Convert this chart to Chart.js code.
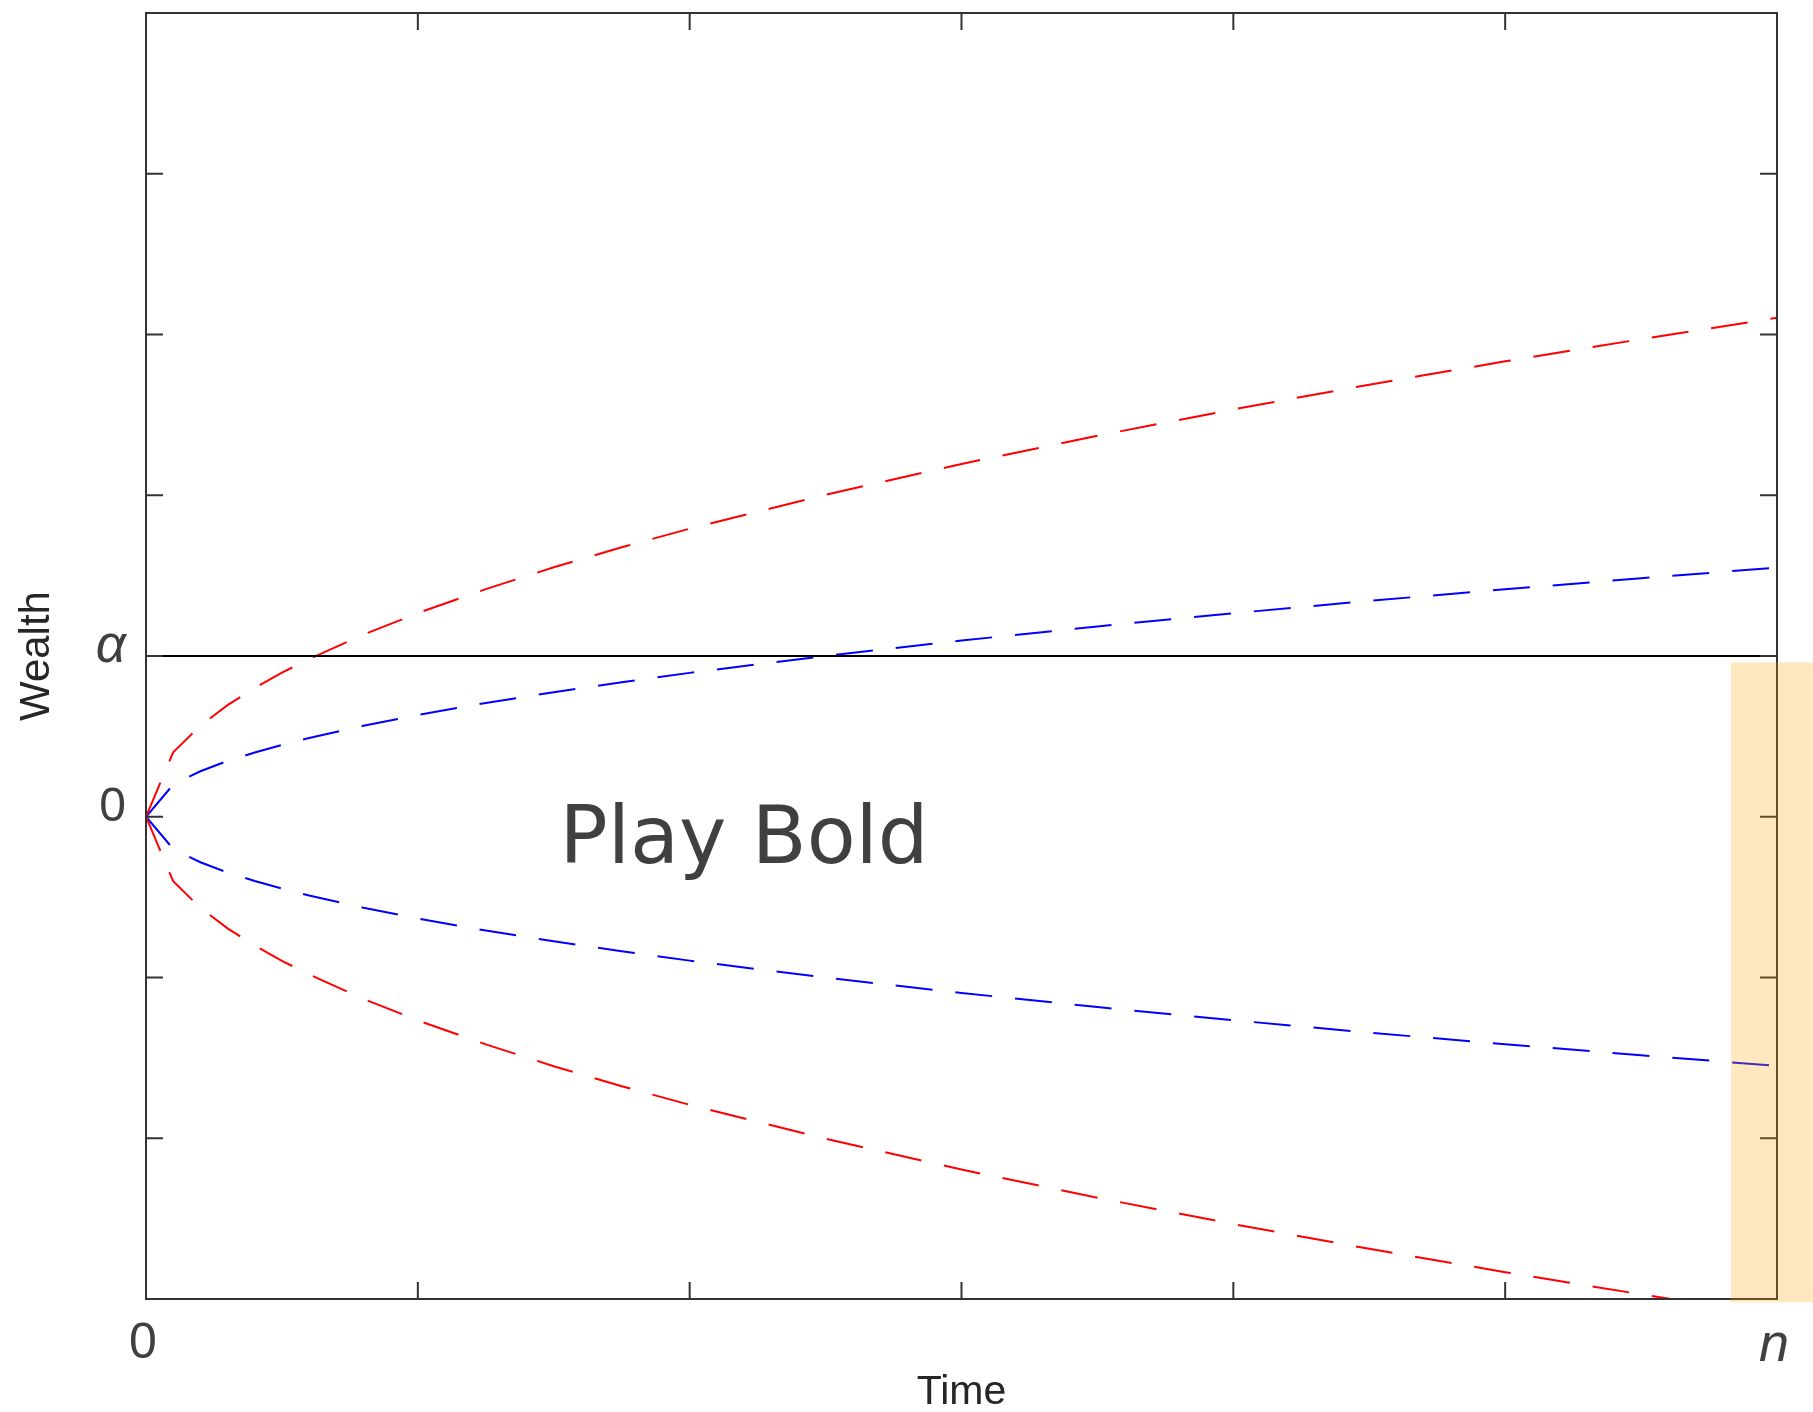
<!DOCTYPE html>
<html>
<head>
<meta charset="utf-8">
<title>Play Bold</title>
<script src="https://cdn.jsdelivr.net/npm/chart.js@4.4.1/dist/chart.umd.min.js"></script>
<style>
  html, body { margin: 0; padding: 0; background: #ffffff; }
  #wrap { width: 1813px; height: 1412px; position: relative; }
</style>
</head>
<body>
<div id="wrap"><canvas id="chart"></canvas></div>
<script>
// Time samples (0 .. n, with n shown at 6)
const timeSteps = [0, 0.1, 0.2, 0.3, 0.4, 0.5, 0.6, 0.8, 1.0, 1.25, 1.5, 1.75, 2, 2.5, 3, 3.5, 4, 4.5, 5, 5.5, 6];

// Bold play: wide envelope (red)
const boldUpper = [0, 0.401, 0.567, 0.694, 0.801, 0.896, 0.981, 1.133, 1.267, 1.416, 1.552, 1.676, 1.792, 2.003, 2.195, 2.370, 2.534, 2.688, 2.833, 2.971, 3.104];
const boldLower = [0, -0.401, -0.567, -0.694, -0.801, -0.896, -0.981, -1.133, -1.267, -1.416, -1.552, -1.676, -1.792, -2.003, -2.195, -2.370, -2.534, -2.688, -2.833, -2.971, -3.104];

// Timid play: narrow envelope (blue)
const timidUpper = [0, 0.200, 0.283, 0.347, 0.400, 0.447, 0.490, 0.566, 0.633, 0.708, 0.775, 0.837, 0.895, 1.001, 1.096, 1.184, 1.266, 1.343, 1.415, 1.484, 1.550];
const timidLower = [0, -0.200, -0.283, -0.347, -0.400, -0.447, -0.490, -0.566, -0.633, -0.708, -0.775, -0.837, -0.895, -1.001, -1.096, -1.184, -1.266, -1.343, -1.415, -1.484, -1.550];

// Target wealth level alpha
const alphaLevel = 1;
const timeRange = [0, 6];
const wealthRange = [-3, 5];

// Tick labels
const xTickValues = [0, 6];
const xTickLabels = ['0', 'n'];
const yTickValues = [0, 1];
const yTickLabels = ['0', 'α'];

// Text and shaded band
const regionLabel = 'Play Bold';
const regionLabelAt = { x: 2.2, y: -0.29 };
const bandFrom = { x: 5.83, y: 0.96 };
const bandTo = { y: -3.02 };

const pairs = (xs, ys) => xs.map((t, i) => ({ x: t, y: ys[i] }));

const envelope = (data, color) => ({
  data,
  borderColor: color,
  borderWidth: 2,
  borderDash: [37, 23],
  pointRadius: 0,
  tension: 0,
  fill: false
});

const labelFont = '"Liberation Sans", Arial, sans-serif';

const frameAndTicks = {
  id: 'frameAndTicks',
  afterDatasetsDraw(chart) {
    const { ctx, chartArea: a, scales: { x, y } } = chart;
    const len = 17;
    ctx.save();
    ctx.strokeStyle = '#333333';
    ctx.lineWidth = 2;
    ctx.beginPath();
    x.ticks.forEach(t => {
      const px = x.getPixelForValue(t.value);
      ctx.moveTo(px, a.bottom); ctx.lineTo(px, a.bottom - len);
      ctx.moveTo(px, a.top); ctx.lineTo(px, a.top + len);
    });
    y.ticks.forEach(t => {
      const py = y.getPixelForValue(t.value);
      ctx.moveTo(a.left, py); ctx.lineTo(a.left + len, py);
      ctx.moveTo(a.right, py); ctx.lineTo(a.right - len, py);
    });
    ctx.stroke();
    ctx.strokeRect(a.left, a.top, a.right - a.left, a.bottom - a.top);
    ctx.restore();
  },
  afterDraw(chart) {
    const { ctx, scales: { x, y } } = chart;
    ctx.save();
    ctx.fillStyle = '#404040';
    ctx.font = '80px "DejaVu Sans"';
    ctx.textAlign = 'center';
    ctx.textBaseline = 'alphabetic';
    ctx.fillText(regionLabel, x.getPixelForValue(regionLabelAt.x), y.getPixelForValue(regionLabelAt.y));
    const bx = x.getPixelForValue(bandFrom.x);
    const by = y.getPixelForValue(bandFrom.y);
    const bb = y.getPixelForValue(bandTo.y);
    ctx.fillStyle = 'rgba(255, 165, 0, 0.25)';
    ctx.fillRect(bx, by, chart.width - bx, bb - by);
    ctx.restore();
  }
};

new Chart(document.getElementById('chart'), {
  type: 'line',
  data: {
    datasets: [
      {
        data: [{ x: timeRange[0], y: alphaLevel }, { x: timeRange[1], y: alphaLevel }],
        borderColor: '#000000',
        borderWidth: 2,
        pointRadius: 0
      },
      envelope(pairs(timeSteps, boldUpper), '#ff0000'),
      envelope(pairs(timeSteps, boldLower), '#ff0000'),
      envelope(pairs(timeSteps, timidUpper), '#0000ff'),
      envelope(pairs(timeSteps, timidLower), '#0000ff')
    ]
  },
  options: {
    responsive: true,
    maintainAspectRatio: false,
    animation: false,
    events: [],
    layout: { padding: { top: 13, right: 36, left: 0, bottom: 0 } },
    plugins: { legend: { display: false }, tooltip: { enabled: false } },
    scales: {
      x: {
        type: 'linear',
        min: timeRange[0],
        max: timeRange[1],
        grid: { display: false },
        border: { display: false },
        afterFit: s => { s.height = 113; s.paddingLeft = 0; s.paddingRight = 0; },
        afterBuildTicks: s => { s.ticks = [0, 1, 2, 3, 4, 5, 6].map(v => ({ value: v })); },
        ticks: {
          autoSkip: false,
          maxRotation: 0,
          padding: 7,
          labelOffset: -3,
          color: '#404040',
          font: ctx => {
            const i = xTickValues.indexOf(ctx.tick && ctx.tick.value);
            return (i >= 0 && xTickLabels[i] === 'n')
              ? { family: labelFont, size: 54, style: 'italic' }
              : { family: labelFont, size: 50 };
          },
          callback: v => { const i = xTickValues.indexOf(v); return i >= 0 ? xTickLabels[i] : ''; }
        },
        title: {
          display: true,
          text: 'Time',
          color: '#262626',
          font: { family: labelFont, size: 41 },
          padding: { top: 0, bottom: -5 }
        }
      },
      y: {
        type: 'linear',
        min: wealthRange[0],
        max: wealthRange[1],
        grid: { display: false },
        border: { display: false },
        afterFit: s => { s.width = 146; s.paddingTop = 0; s.paddingBottom = 0; },
        ticks: {
          stepSize: 1,
          autoSkip: false,
          padding: 12,
          labelOffset: -9,
          color: '#404040',
          font: ctx => {
            const i = yTickValues.indexOf(ctx.tick && ctx.tick.value);
            return (i >= 0 && yTickLabels[i] === 'α')
              ? { family: labelFont, size: 53, style: 'italic' }
              : { family: labelFont, size: 48 };
          },
          callback: v => { const i = yTickValues.indexOf(v); return i >= 0 ? yTickLabels[i] : ''; }
        },
        title: {
          display: true,
          text: 'Wealth',
          color: '#262626',
          font: { family: labelFont, size: 42 },
          padding: { top: 12, bottom: 0 }
        }
      }
    }
  },
  plugins: [frameAndTicks]
});
</script>
</body>
</html>
